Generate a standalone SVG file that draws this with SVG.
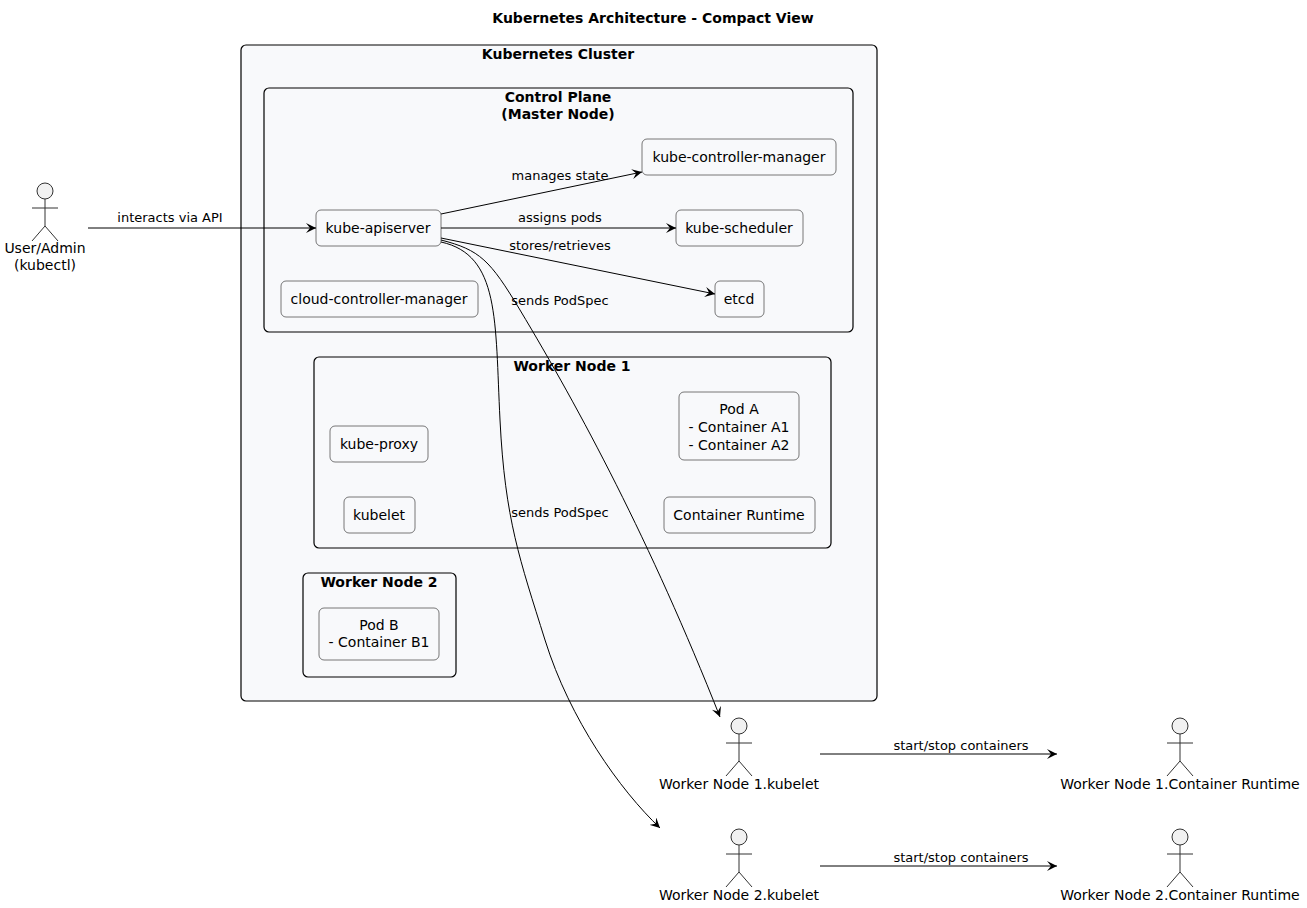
<svg xmlns="http://www.w3.org/2000/svg" width="1307" height="908" viewBox="0 0 1307 908">
<style>
text{font-family:"DejaVu Sans",sans-serif;fill:#000}
.t{font-size:14px;font-weight:bold;text-anchor:middle}
.n{font-size:14px;text-anchor:middle}
.l{font-size:13px;text-anchor:middle}
.c{fill:#F8F9FB;stroke:#000;stroke-width:1.2}
.b{fill:#F8F9FB;stroke:#555;stroke-width:0.8}
.e{fill:none;stroke:#000;stroke-width:1;marker-end:url(#a)}
.act{fill:none;stroke:#333;stroke-width:1}
</style>
<defs>
<marker id="a" markerWidth="12" markerHeight="10" refX="10" refY="5" orient="auto" markerUnits="userSpaceOnUse">
<path d="M0,0 L10,5 L0,10 L4,5 Z" fill="#000"/>
</marker>
<g id="actor"><circle cx="0" cy="0" r="8" fill="#F1F1F1" stroke="#333"/><path class="act" d="M0,8 V35 M-13,17 H13 M0,35 L-13,50 M0,35 L13,50"/></g>
</defs>
<rect width="1307" height="908" fill="#fff"/>
<text class="t" x="653" y="23">Kubernetes Architecture - Compact View</text>
<g id="cluster"><rect class="c" x="241" y="45" width="636" height="656" rx="5"/><text class="t" x="558" y="59">Kubernetes Cluster</text></g>
<g id="controlplane"><rect class="c" x="264" y="88" width="589" height="244" rx="5"/><text class="t" x="558" y="102">Control Plane</text><text class="t" x="558" y="119">(Master Node)</text></g>
<g id="kcm"><rect class="b" x="642" y="139" width="194" height="36" rx="5"/><text class="n" x="739" y="162">kube-controller-manager</text></g>
<g id="sched"><rect class="b" x="676" y="210" width="127" height="36" rx="5"/><text class="n" x="739" y="233">kube-scheduler</text></g>
<g id="etcd"><rect class="b" x="715" y="281" width="49" height="36" rx="5"/><text class="n" x="739" y="304">etcd</text></g>
<g id="api"><rect class="b" x="316" y="210" width="125" height="36" rx="5"/><text class="n" x="378" y="233">kube-apiserver</text></g>
<g id="ccm"><rect class="b" x="281" y="281" width="197" height="36" rx="5"/><text class="n" x="379" y="304">cloud-controller-manager</text></g>
<g id="wn1"><rect class="c" x="314" y="357" width="517" height="191" rx="5"/><text class="t" x="572" y="371">Worker Node 1</text></g>
<g id="proxy"><rect class="b" x="330" y="426" width="98" height="36" rx="5"/><text class="n" x="379" y="449">kube-proxy</text></g>
<g id="kubelet1"><rect class="b" x="344" y="497" width="71" height="36" rx="5"/><text class="n" x="379" y="520">kubelet</text></g>
<g id="poda"><rect class="b" x="679" y="392" width="120" height="68" rx="5"/><text class="n" x="739" y="414">Pod A</text><text class="n" x="739" y="432">- Container A1</text><text class="n" x="739" y="450">- Container A2</text></g>
<g id="cr1"><rect class="b" x="664" y="497" width="151" height="36" rx="5"/><text class="n" x="739" y="520">Container Runtime</text></g>
<g id="wn2"><rect class="c" x="303" y="573" width="153" height="104" rx="5"/><text class="t" x="379" y="587">Worker Node 2</text></g>
<g id="podb"><rect class="b" x="319" y="608" width="120" height="52" rx="5"/><text class="n" x="379" y="630">Pod B</text><text class="n" x="379" y="647">- Container B1</text></g>
<g id="user"><use href="#actor" x="45" y="191"/><text class="n" x="45" y="253">User/Admin</text><text class="n" x="45" y="270">(kubectl)</text></g>
<g id="wn1kubelet"><use href="#actor" x="739" y="726"/><text class="n" x="739" y="789">Worker Node 1.kubelet</text></g>
<g id="wn2kubelet"><use href="#actor" x="739" y="837"/><text class="n" x="739" y="900">Worker Node 2.kubelet</text></g>
<g id="wn1cr"><use href="#actor" x="1180" y="726"/><text class="n" x="1180" y="789">Worker Node 1.Container Runtime</text></g>
<g id="wn2cr"><use href="#actor" x="1180" y="837"/><text class="n" x="1180" y="900">Worker Node 2.Container Runtime</text></g>
<g id="edges">
<path class="e" d="M88,228 H316"/><text class="l" x="170" y="222">interacts via API</text>
<path class="e" d="M441,214 L642,172"/><text class="l" x="560" y="180">manages state</text>
<path class="e" d="M441,228 H676"/><text class="l" x="560" y="222">assigns pods</text>
<path class="e" d="M441,238 L715,294"/><text class="l" x="560" y="250">stores/retrieves</text>
<path class="e" d="M441,240 C480,250 490,260 520,310 C580,410 650,540 720,717"/><text class="l" x="560" y="305">sends PodSpec</text>
<path class="e" d="M441,242 C500,255 495,320 500,420 C505,520 520,560 545,640 C570,720 620,790 660,828"/><text class="l" x="560" y="517">sends PodSpec</text>
<path class="e" d="M820,754 H1057"/><text class="l" x="961" y="750">start/stop containers</text>
<path class="e" d="M820,866 H1057"/><text class="l" x="961" y="862">start/stop containers</text>
</g>
</svg>
